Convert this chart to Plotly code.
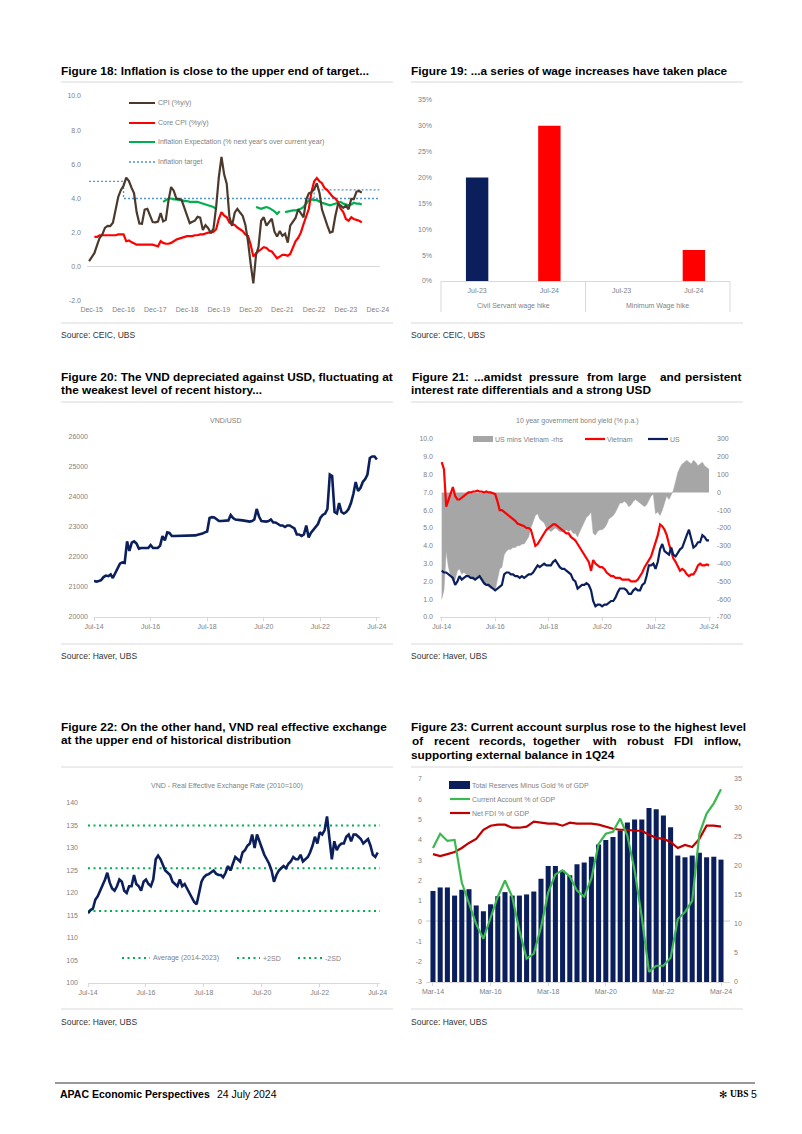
import pandas as pd
import plotly.graph_objects as go

W, H = 802, 1134
def px(x): return x / W
def py(y): return 1 - y / H
def dx(a, b): return [px(a), px(b)]
def dy(top, bottom): return [py(bottom), py(top)]

NAVY = "#0b1f5c"
RED = "#ff0000"
DRED = "#c00000"
BROWN = "#4b3a2c"
GREEN = "#00b050"
GREEN2 = "#3cb850"
GREY_AREA = "#a6a6a6"
TARGET = "#4f95c8"
TXT_GREY = "#7f7f7f"
AXIS = "#d9d9d9"
FONT = "Liberation Sans"

# ---------------- Figure 18 data (monthly) ----------------
cpi_start = "2015-11-01"
cpi = [0.34, 0.60,
       0.80, 1.27, 1.69, 1.89, 2.28, 2.40, 2.39, 2.58, 3.34, 4.09, 4.50, 4.74,
       5.22, 5.02, 4.65, 4.30, 3.19, 2.54, 2.52, 3.35, 3.40, 2.98, 2.62, 2.60,
       2.65, 3.15, 2.66, 2.75, 3.86, 4.67, 4.46, 3.98, 3.98, 3.89, 3.46, 2.98,
       2.56, 2.64, 2.70, 2.93, 2.88, 2.16, 2.44, 2.26, 1.98, 2.24, 3.52, 5.23,
       6.43, 5.40, 4.87, 2.93, 2.40, 3.17, 3.39, 3.18, 2.98, 2.47, 1.48, 0.19,
       -0.97, 0.70, 1.16, 2.70, 2.90, 2.41, 2.64, 2.82, 2.06, 1.77, 2.10, 1.81,
       1.94, 1.42, 2.41, 2.64, 2.86, 3.37, 3.14, 2.89, 3.94, 4.30, 4.37, 4.55,
       4.89, 4.31, 3.35, 2.81, 2.43, 2.00, 2.06, 2.96, 3.66, 3.59, 3.45, 3.58,
       3.37, 3.98, 3.97, 4.40, 4.44, 4.34]
core_start = "2016-01-01"
core_cpi = [1.75, 1.75, 1.85, 1.85, 1.85, 1.85, 1.85, 1.85, 1.85, 1.90, 1.90, 1.90,
            1.50, 1.55, 1.45, 1.35, 1.30, 1.30, 1.30, 1.30, 1.30, 1.30, 1.30, 1.25,
            1.20, 1.50, 1.40, 1.35, 1.35, 1.40, 1.50, 1.60, 1.65, 1.70, 1.75, 1.80,
            1.80, 1.80, 1.85, 1.85, 1.90, 1.90, 1.95, 2.00, 2.00, 2.05, 2.20, 2.80,
            3.20, 3.00, 2.90, 2.60, 2.50, 2.45, 2.30, 2.20, 2.10, 1.90, 1.80, 1.30,
            0.60, 0.80, 0.90, 1.05, 1.15, 1.10, 0.95, 0.90, 0.70, 0.50, 0.60, 0.70,
            0.70, 0.65, 0.75, 1.10, 1.50, 1.70, 2.00, 2.50, 2.90, 3.40, 4.40, 5.00,
            5.20, 5.00, 4.90, 4.60, 4.50, 4.30, 4.10, 4.00, 3.80, 3.40, 3.20, 2.80,
            2.70, 2.90, 2.80, 2.75, 2.70, 2.60]
exp_start = "2018-03-01"
infl_exp = [3.80, 3.90, 4.00, 4.00, 3.95, 3.95, 3.90, 3.90, 3.85, 3.85,
            3.80, 3.80, 3.80, 3.80, 3.75, 3.70, 3.65, 3.60, 3.55, 3.50, 3.40, None,
            None, None, None, None, None, None, None, None, None, None, None, None,
            None, 3.50, 3.45, 3.40, 3.45, 3.50, 3.45, 3.35, 3.25, 3.10, 3.25, None,
            3.20, 3.25, 3.25, 3.30, 3.30, 3.35, 3.40, 3.50, 3.70, 3.90, 3.95, 3.90,
            3.90, 3.80, 3.75, 3.70, 3.65, 3.60, 3.65, 3.70, 3.75, 3.80, 3.70, 3.65,
            3.60, 3.65, 3.75, 3.70, 3.70, 3.65]
target_x = ["2015-11-01", "2016-12-01", "2016-12-01", "2024-12-20"]
target_y = [5.0, 5.0, 4.0, 4.0]
target_up_x = ["2022-12-01", "2022-12-01", "2024-12-20"]
target_up_y = [4.0, 4.5, 4.5]
f18_ticks = ["2015-12-01", "2016-12-01", "2017-12-01", "2018-12-01", "2019-12-01",
             "2020-12-01", "2021-12-01", "2022-12-01", "2023-12-01", "2024-12-01"]
f18_ticktext = ["Dec-15", "Dec-16", "Dec-17", "Dec-18", "Dec-19",
                "Dec-20", "Dec-21", "Dec-22", "Dec-23", "Dec-24"]
f18_yticks = [-2, 0, 2, 4, 6, 8, 10]
f18_ytext = ["-2.0", "0.0", "2.0", "4.0", "6.0", "8.0", "10.0"]

# ---------------- Figure 19 data ----------------
wage_groups = ["Civil Servant wage hike", "Minimum Wage hike"]
wage_periods = ["Jul-23", "Jul-24", "Jul-23", "Jul-24"]
wage_values = [20, 30, 0, 6]
wage_colors = [NAVY, RED, NAVY, RED]

# ---------------- Figure 20 data (monthly, Jul-14 .. Jul-24) ----------------
m_start = "2014-07-01"
vnd_usd = [21200, 21180, 21200, 21230, 21330, 21380,
           21360, 21420, 21300, 21480, 21600, 21780, 21820, 21800, 22520, 22200, 22480, 22520,
           22450, 22280, 22300, 22300, 22310, 22300, 22400, 22300, 22300, 22300, 22380, 22700,
           22550, 22820, 22800, 22700, 22700, 22700, 22720, 22700, 22700, 22700, 22710, 22700,
           22700, 22720, 22740, 22750, 22780, 22820, 22850, 23300, 23330, 23320, 23250, 23200,
           23200, 23200, 23200, 23220, 23400, 23300, 23250, 23250, 23230, 23220, 23200, 23200,
           23180, 23200, 23250, 23600, 23350, 23200, 23180, 23180, 23200, 23250, 23150, 23150,
           23100, 23050, 23050, 23000, 23050, 23050, 23000, 22950, 22750, 22750, 22700, 22750,
           23050, 22650, 22800, 22900, 23000, 23100, 23300, 23400, 23450, 23600, 24750, 24700,
           23500, 23450, 23800, 23500, 23450, 23500, 23600, 23800, 24100, 24500, 24200, 24300,
           24500, 24600, 24750, 25300, 25350, 25350, 25250]

# ---------------- Figure 21 data (monthly, Jul-14 .. Jul-24) ----------------
vn_10y = [8.7, 8.3, 6.2, 6.6, 6.9, 7.3,
          6.8, 6.6, 6.6, 6.7, 6.8, 6.9, 7.0, 7.0, 7.05, 7.05, 7.1, 7.05,
          7.05, 7.0, 7.05, 7.0, 7.0, 6.95, 6.9, 6.5, 6.0, 6.0, 5.9, 5.8,
          5.7, 5.6, 5.5, 5.4, 5.25, 5.2, 5.15, 5.1, 5.0, 5.0, 4.9, 4.4,
          4.0, 4.1, 4.3, 4.5, 4.7, 4.9, 5.0, 5.1, 5.2, 5.2, 5.1, 5.0,
          4.9, 4.8, 4.7, 4.7, 4.5, 4.4, 4.3, 4.1, 3.9, 3.7, 3.5, 3.3,
          3.1, 2.6, 3.2, 3.0, 2.9, 2.8, 2.8, 2.7, 2.5, 2.4, 2.3, 2.3,
          2.2, 2.2, 2.2, 2.1, 2.1, 2.1, 2.1, 2.0, 2.0, 2.0, 2.1, 2.3,
          2.5, 2.8, 3.0, 3.2, 3.4, 3.8, 4.2, 4.6, 5.2, 5.1, 4.9, 4.6,
          4.1, 3.7, 3.3, 3.1, 2.8, 2.6, 2.7, 2.6, 2.4, 2.3, 2.4, 2.4,
          2.6, 2.9, 3.0, 2.9, 2.9, 2.95, 2.9]
us_10y = [2.6, 2.5, 2.5, 2.4, 2.3, 2.2,
          1.8, 2.0, 2.3, 2.1, 2.2, 2.3, 2.3, 2.2, 2.2, 2.1, 2.2, 2.3,
          2.1, 1.9, 1.8, 1.8, 1.7, 1.6, 1.5, 1.6, 1.7, 1.8, 2.4, 2.5,
          2.5, 2.4, 2.4, 2.3, 2.3, 2.2, 2.3, 2.2, 2.3, 2.4, 2.4, 2.5,
          2.7, 2.9, 2.8, 2.9, 3.0, 2.9, 2.9, 2.9, 3.1, 3.2, 3.0, 2.8,
          2.7, 2.7, 2.6, 2.5, 2.4, 2.1, 2.0, 1.6, 1.7, 1.8, 1.8, 1.9,
          1.8, 1.5, 0.9, 0.6, 0.7, 0.7, 0.6, 0.7, 0.7, 0.8, 0.9, 0.9,
          1.1, 1.4, 1.6, 1.6, 1.6, 1.5, 1.3, 1.3, 1.5, 1.6, 1.5, 1.5,
          1.8, 1.9, 2.3, 2.9, 2.9, 3.0, 2.7, 3.1, 3.8, 4.1, 3.7, 3.6,
          3.5, 3.9, 3.5, 3.4, 3.6, 3.8, 3.9, 4.2, 4.6, 4.9, 4.4, 3.9,
          4.0, 4.2, 4.2, 4.6, 4.5, 4.3, 4.3]
us_minus_vn_bp = [-600, -550, -330, -420, -470, -500,
                  -490, -440, -430, -460, -450, -460, -470, -480, -490, -490, -480, -480,
                  -500, -520, -520, -530, -540, -540, -550, -490, -430, -420, -350, -330,
                  -320, -320, -310, -310, -300, -300, -290, -290, -270, -250, -200, -160,
                  -130, -120, -150, -160, -170, -200, -210, -220, -210, -200, -210, -220,
                  -220, -220, -210, -220, -210, -230, -230, -250, -220, -190, -170, -140,
                  -130, -110, -230, -240, -220, -210, -210, -200, -180, -150, -140, -130,
                  -110, -80, -60, -60, -50, -60, -80, -70, -50, -40, -50, -60,
                  -70, -80, -70, -40, -20, -10, -120, -110, -130, -100, -60, -20,
                  -40, -10, 10, 60, 110, 140, 160, 170, 180, 170, 160, 180,
                  170, 150, 160, 170, 150, 140, 130]

# ---------------- Figure 22 data (monthly, Jul-14 .. Jul-24) ----------------
reer = [115.5, 116.2, 116.5, 118.5, 119.3, 120.5,
        121.5, 123.0, 124.5, 122.3, 121.0, 120.5, 121.5, 123.0, 122.5, 120.5, 120.0, 121.5,
        121.5, 124.0, 122.0, 121.5, 120.5, 122.5, 123.0, 122.0, 121.5, 123.0, 127.5, 128.3,
        127.5, 126.0, 125.0, 124.5, 124.0, 122.5, 122.0, 121.5, 123.0, 121.5, 122.0, 121.0,
        120.0, 118.8, 118.0, 117.5, 120.0, 122.5, 123.5, 124.0, 124.2, 124.5, 125.0, 124.3,
        124.0, 124.0, 123.5, 124.5, 126.0, 125.0, 126.5, 128.0, 127.5, 127.0, 129.0, 129.5,
        130.5, 131.0, 133.0, 130.0, 133.0, 131.5, 130.0, 128.5, 127.5, 126.5, 125.0, 122.5,
        124.0, 125.0, 125.5, 126.0, 125.5, 126.5, 127.0, 128.0, 127.5, 127.5, 128.5, 127.0,
        127.5, 128.0, 129.0, 130.5, 132.5, 131.0, 133.5, 133.0, 134.0, 137.0, 132.0, 127.5,
        131.5, 129.5, 130.5, 131.0, 131.0, 132.5, 133.0, 131.5, 133.0, 133.0, 132.5, 132.0,
        131.0, 131.5, 132.0, 130.5, 128.5, 128.0, 129.0]
reer_band_x = ["2014-07-01", "2024-07-31"]
reer_avg = 125.5
reer_plus2sd = 135.0
reer_minus2sd = 116.0

# ---------------- Figure 23 data (quarterly, Mar-14 .. Mar-24) ----------------
q_start = "2014-03-01"
reserves_gdp = [15.7, 16.3, 16.3, 14.9, 15.9, 16.0, 13.2, 12.2, 13.4, 14.8, 15.5, 14.9,
                14.9, 15.1, 15.6, 17.8, 20.0, 20.0, 19.2, 18.4, 20.3, 20.6, 21.6, 23.7,
                24.5, 25.0, 26.1, 27.5, 28.0, 28.0, 30.0, 29.8, 28.7, 26.7, 21.8, 21.5,
                21.8, 22.3, 21.5, 21.6, 21.1]
ca_gdp = [3.6, 4.3, 3.95, 4.0, 1.9, 0.85, -0.15, -0.87, 0.2, 1.2, 2.0, 1.2,
          -0.45, -1.85, -1.6, -0.3, 1.4, 2.3, 2.5, 2.2, 1.5, 1.2, 2.1, 3.8,
          4.3, 4.4, 5.05, 4.2, 2.5, 0.2, -2.5, -2.2, -2.2, -1.8, 0.1, 0.45,
          1.0, 4.3, 5.3, 5.8, 6.5]
fdi_gdp = [3.3, 3.2, 3.3, 3.4, 3.6, 3.85, 4.05, 4.5, 4.7, 4.75, 4.75, 4.6,
           4.6, 4.65, 4.9, 4.85, 4.8, 4.8, 4.7, 4.85, 4.8, 4.8, 4.8, 4.75,
           4.65, 4.55, 4.5, 4.5, 4.45, 4.45, 4.25, 4.1, 4.05, 3.9, 3.6, 3.75,
           3.65, 4.05, 4.7, 4.7, 4.65]

# ---------------- derived x values ----------------
cpi_x = pd.date_range(cpi_start, periods=len(cpi), freq="MS")
core_x = pd.date_range(core_start, periods=len(core_cpi), freq="MS")
exp_x = pd.date_range(exp_start, periods=len(infl_exp), freq="MS")
m_x = pd.date_range(m_start, periods=len(vnd_usd), freq="MS")
q_labels = [d.strftime("%b-%y") for d in pd.date_range(q_start, periods=len(reserves_gdp), freq="3MS")]

jul_ticks = ["2014-07-01", "2016-07-01", "2018-07-01", "2020-07-01", "2022-07-01", "2024-07-01"]
jul_text = ["Jul-14", "Jul-16", "Jul-18", "Jul-20", "Jul-22", "Jul-24"]

fig = go.Figure()

# Figure 18
fig.add_trace(go.Scatter(x=target_x, y=target_y, mode="lines", xaxis="x", yaxis="y",
                         line=dict(color=TARGET, width=1.3, dash="2px,2px")))
fig.add_trace(go.Scatter(x=target_up_x, y=target_up_y, mode="lines", xaxis="x", yaxis="y",
                         line=dict(color=TARGET, width=1.3, dash="2px,2px")))
fig.add_trace(go.Scatter(x=exp_x, y=infl_exp, mode="lines", xaxis="x", yaxis="y",
                         line=dict(color=GREEN, width=2.2)))
fig.add_trace(go.Scatter(x=core_x, y=core_cpi, mode="lines", xaxis="x", yaxis="y",
                         line=dict(color=RED, width=2.2)))
fig.add_trace(go.Scatter(x=cpi_x, y=cpi, mode="lines", xaxis="x", yaxis="y",
                         line=dict(color=BROWN, width=2.2)))

# Figure 19
fig.add_trace(go.Bar(x=list(range(len(wage_values))), y=wage_values, width=0.31,
                     marker=dict(color=wage_colors, line=dict(width=0)),
                     xaxis="x2", yaxis="y2"))

# Figure 20
fig.add_trace(go.Scatter(x=m_x, y=vnd_usd, mode="lines", xaxis="x3", yaxis="y3",
                         line=dict(color=NAVY, width=2.6)))

# Figure 21 (spread on base right axis, yields on overlaying left axis)
fig.add_trace(go.Scatter(x=m_x, y=us_minus_vn_bp, mode="lines", fill="tozeroy",
                         fillcolor=GREY_AREA, line=dict(color=GREY_AREA, width=0.5),
                         xaxis="x4", yaxis="y4"))
fig.add_trace(go.Scatter(x=m_x, y=vn_10y, mode="lines", xaxis="x4", yaxis="y7",
                         line=dict(color=RED, width=2.2)))
fig.add_trace(go.Scatter(x=m_x, y=us_10y, mode="lines", xaxis="x4", yaxis="y7",
                         line=dict(color=NAVY, width=2.2)))

# Figure 22
for lvl in (reer_plus2sd, reer_avg, reer_minus2sd):
    fig.add_trace(go.Scatter(x=reer_band_x, y=[lvl, lvl], mode="lines", xaxis="x5", yaxis="y5",
                             line=dict(color=GREEN, width=2.2, dash="2px,3.5px")))
fig.add_trace(go.Scatter(x=m_x, y=reer, mode="lines", xaxis="x5", yaxis="y5",
                         line=dict(color=NAVY, width=2.6)))

# Figure 23 (bars on base right axis, lines on overlaying left axis)
fig.add_trace(go.Bar(x=q_labels, y=reserves_gdp, width=0.7, marker=dict(color=NAVY, line=dict(width=0)),
                     xaxis="x6", yaxis="y6"))
fig.add_trace(go.Scatter(x=q_labels, y=fdi_gdp, mode="lines", xaxis="x6", yaxis="y8",
                         line=dict(color=DRED, width=2.2)))
fig.add_trace(go.Scatter(x=q_labels, y=ca_gdp, mode="lines", xaxis="x6", yaxis="y8",
                         line=dict(color=GREEN2, width=2.2)))

TICKF = dict(family=FONT, size=7, color=TXT_GREY)
base_ax = dict(showgrid=False, zeroline=False, showline=False, ticks="", tickfont=TICKF,
               fixedrange=True, automargin=False)

def xax(domain, anchor, **kw):
    d = dict(base_ax); d.update(domain=domain, anchor=anchor); d.update(kw); return d

def yax(domain, anchor, **kw):
    d = dict(base_ax); d.update(domain=domain, anchor=anchor); d.update(kw); return d

axline = dict(showline=True, linecolor=AXIS, linewidth=1, ticks="outside", ticklen=3, tickcolor=AXIS)

fig.update_layout(
    template="none",
    width=W, height=H, margin=dict(l=0, r=0, t=0, b=0, pad=0, autoexpand=False),
    paper_bgcolor="white", plot_bgcolor="rgba(0,0,0,0)", showlegend=False,
    xaxis=xax(dx(87, 380), "y", type="date", range=["2015-10-08", "2024-12-27"],
              tickvals=f18_ticks, ticktext=f18_ticktext, ticklabelstandoff=3),
    yaxis=yax(dy(96, 301), "x", range=[-2, 10], tickvals=f18_yticks, ticktext=f18_ytext,
              zeroline=True, zerolinecolor=AXIS, zerolinewidth=1, ticklabelstandoff=5),
    xaxis2=xax(dx(441, 730), "y2", range=[-0.5, 3.5], tickvals=[0, 1, 2, 3], ticktext=wage_periods,
               showline=True, linecolor=AXIS, linewidth=1, ticklabelstandoff=3),
    yaxis2=yax(dy(100, 281), "x2", range=[0, 35], tickvals=[0, 5, 10, 15, 20, 25, 30, 35],
               ticktext=["0%", "5%", "10%", "15%", "20%", "25%", "30%", "35%"], ticklabelstandoff=8),
    xaxis3=xax(dx(94, 380), "y3", type="date", range=["2014-07-01", "2024-08-10"],
               tickvals=jul_ticks, ticktext=jul_text, **axline),
    yaxis3=yax(dy(437, 617), "x3", range=[20000, 26000],
               tickvals=[20000, 21000, 22000, 23000, 24000, 25000, 26000],
               ticktext=["20000", "21000", "22000", "23000", "24000", "25000", "26000"], ticklabelstandoff=5),
    xaxis4=xax(dx(440, 711), "y4", type="date", range=["2014-06-08", "2024-07-28"],
               tickvals=jul_ticks, ticktext=jul_text, **axline),
    yaxis4=yax(dy(439, 617), "x4", side="right", range=[-700, 300],
               tickvals=[-700, -600, -500, -400, -300, -200, -100, 0, 100, 200, 300],
               ticktext=["-700", "-600", "-500", "-400", "-300", "-200", "-100", "0", "100", "200", "300"],
               ticklabelstandoff=5),
    yaxis7=yax(dy(439, 617), "x4", side="left", overlaying="y4", range=[0, 10],
               tickvals=list(range(0, 11)), ticktext=[f"{v}.0" for v in range(0, 11)], ticklabelstandoff=6),
    xaxis5=xax(dx(88, 380), "y5", type="date", range=["2014-07-01", "2024-07-30"],
               tickvals=jul_ticks, ticktext=jul_text, **axline),
    yaxis5=yax(dy(803, 983), "x5", range=[100, 140], tickvals=[100, 105, 110, 115, 120, 125, 130, 135, 140],
               ticktext=["100", "105", "110", "115", "120", "125", "130", "135", "140"], ticklabelstandoff=9),
    xaxis6=xax(dx(426, 730), "y6", type="category", categoryorder="array", categoryarray=q_labels,
               range=[-0.97, 41.25], tickvals=[q_labels[i] for i in (0, 8, 16, 24, 32, 40)],
               ticktext=[q_labels[i] for i in (0, 8, 16, 24, 32, 40)], **axline),
    yaxis6=yax(dy(779, 982), "x6", side="right", range=[0, 35], tickvals=[0, 5, 10, 15, 20, 25, 30, 35],
               ticktext=["0", "5", "10", "15", "20", "25", "30", "35"], ticklabelstandoff=3),
    yaxis8=yax(dy(779, 982), "x6", side="left", overlaying="y6", range=[-3, 7],
               tickvals=list(range(-3, 8)), ticktext=[str(v) for v in range(-3, 8)],
               zeroline=True, zerolinecolor="#e6e6e6", zerolinewidth=1.2, ticklabelstandoff=3),
)

ann = []
shapes = []

def txt(x, y, s, size=7, color=TXT_GREY, bold=False, anchor="left", family=FONT):
    ann.append(dict(x=px(x), y=py(y), xref="paper", yref="paper", text=s, showarrow=False,
                    xanchor=anchor, yanchor="middle", borderpad=0,
                    font=dict(family=family, size=size, color=color, weight=700 if bold else 400)))

def hline(x0, x1, y, color=AXIS, width=1, dash=None):
    ln = dict(color=color, width=width)
    if dash:
        ln["dash"] = dash
    shapes.append(dict(type="line", xref="paper", yref="paper", x0=px(x0), x1=px(x1), y0=py(y), y1=py(y), line=ln))

def vline(x, y0, y1, color=AXIS, width=1):
    shapes.append(dict(type="line", xref="paper", yref="paper", x0=px(x), x1=px(x), y0=py(y0), y1=py(y1),
                       line=dict(color=color, width=width)))

TS = 11.8
TC = "#000000"
# Titles
txt(60, 71, "Figure 18: Inflation is close to the upper end of target...", TS, TC, True)
txt(410, 71, "Figure 19: ...a series of wage increases have taken place", TS, TC, True)
txt(60, 377, "Figure 20: The VND depreciated against USD, fluctuating at", TS, TC, True)
txt(60, 390, "the weakest level of recent history...", TS, TC, True)
for w, xw in [("Figure", 411), ("21:", 451), ("...amidst", 473), ("pressure", 528), ("from", 586),
              ("large", 617), ("and", 659)]:
    txt(xw, 377, w, TS, TC, True)
txt(742, 377, "persistent", TS, TC, True, anchor="right")
txt(410, 390, "interest rate differentials and a strong USD", TS, TC, True)
txt(60, 727, "Figure 22: On the other hand, VND real effective exchange", TS, TC, True)
txt(60, 740, "at the upper end of historical distribution", TS, TC, True)
txt(410, 727, "Figure 23: Current account surplus rose to the highest level", TS, TC, True)
for w, xw in [("of", 411), ("recent", 433), ("records,", 478), ("together", 532), ("with", 591),
              ("robust", 626), ("FDI", 673)]:
    txt(xw, 741, w, TS, TC, True)
txt(742, 741, "inflow,", TS, TC, True, anchor="right")
txt(410, 755, "supporting external balance in 1Q24", TS, TC, True)

# Separators
for y in (82, 323, 402, 644, 767, 1009):
    hline(61, 393, y); hline(411, 743, y)

# Sources
SS = 8.5
SC = "#333333"
txt(60, 335, "Source: CEIC, UBS", SS, SC); txt(410, 335, "Source: CEIC, UBS", SS, SC)
txt(60, 656, "Source: Haver, UBS", SS, SC); txt(410, 656, "Source: Haver, UBS", SS, SC)
txt(60, 1022, "Source: Haver, UBS", SS, SC); txt(410, 1022, "Source: Haver, UBS", SS, SC)

# Fig 18 legend
for yl, col, lab, dash in [(103, BROWN, "CPI (%y/y)", None), (123, RED, "Core CPI (%y/y)", None),
                           (142, GREEN, "Inflation Expectation (% next year's over current year)", None),
                           (162, TARGET, "Inflation target", "2px,2px")]:
    hline(129, 155, yl, col, 2 if dash is None else 1.3, dash)
    txt(157, yl, lab, 7)

# Fig 19 group labels and dividers
txt(513, 306, wage_groups[0], 7, anchor="center")
txt(657, 306, wage_groups[1], 7, anchor="center")
for xv in (441, 585.5, 730):
    vline(xv, 281, 312)

# Fig 20/21/22 chart captions
txt(226, 420, "VND/USD", 7, anchor="center")
txt(577, 421, "10 year government bond yield (% p.a.)", 7, anchor="center")
txt(227, 786, "VND - Real Effective Exchange Rate (2010=100)", 7, anchor="center")

# Fig 21 legend
shapes.append(dict(type="rect", xref="paper", yref="paper", x0=px(473), x1=px(493), y0=py(442), y1=py(436),
                   fillcolor=GREY_AREA, line=dict(width=0)))
txt(494, 439, "US mins Vietnam -rhs", 7)
hline(585, 605, 439, RED, 2.2); txt(606, 439, "Vietnam", 7)
hline(648, 668, 439, NAVY, 2.2); txt(669, 439, "US", 7)

# Fig 22 legend
for x0, x1, lab in [(122, 150, "Average (2014-2023)"), (237, 260, "+2SD"), (298, 322, "-2SD")]:
    hline(x0, x1, 958, GREEN, 2.2, "2px,3.5px")
    txt(x1 + 2, 958, lab, 7)

# Fig 23 legend
shapes.append(dict(type="rect", xref="paper", yref="paper", x0=px(449), x1=px(470), y0=py(789), y1=py(781),
                   fillcolor=NAVY, line=dict(width=0)))
txt(471, 785, "Total Reserves Minus Gold % of GDP", 7)
hline(450, 470, 799, GREEN2, 2.2); txt(471, 799, "Current Account % of GDP", 7)
hline(450, 470, 813, DRED, 2.2); txt(471, 813, "Net FDI % of GDP", 7)

# Footer
hline(55, 755, 1083, "#333333", 1)
txt(59, 1094, "APAC Economic Perspectives", 10.5, "#000000", True)
txt(216, 1094, "24 July 2024", 10.5, "#000000")
txt(718, 1094, "✻", 10, "#000000", family="DejaVu Sans")
txt(729, 1094, "UBS", 9.5, "#000000", True, family="Liberation Serif")
txt(750, 1094, "5", 10.5, "#000000")

fig.update_layout(annotations=ann, shapes=shapes)

fig.write_html("out.html", config={"displayModeBar": False, "staticPlot": True},
               post_script="document.body.style.margin='0';document.body.style.overflow='hidden';")
